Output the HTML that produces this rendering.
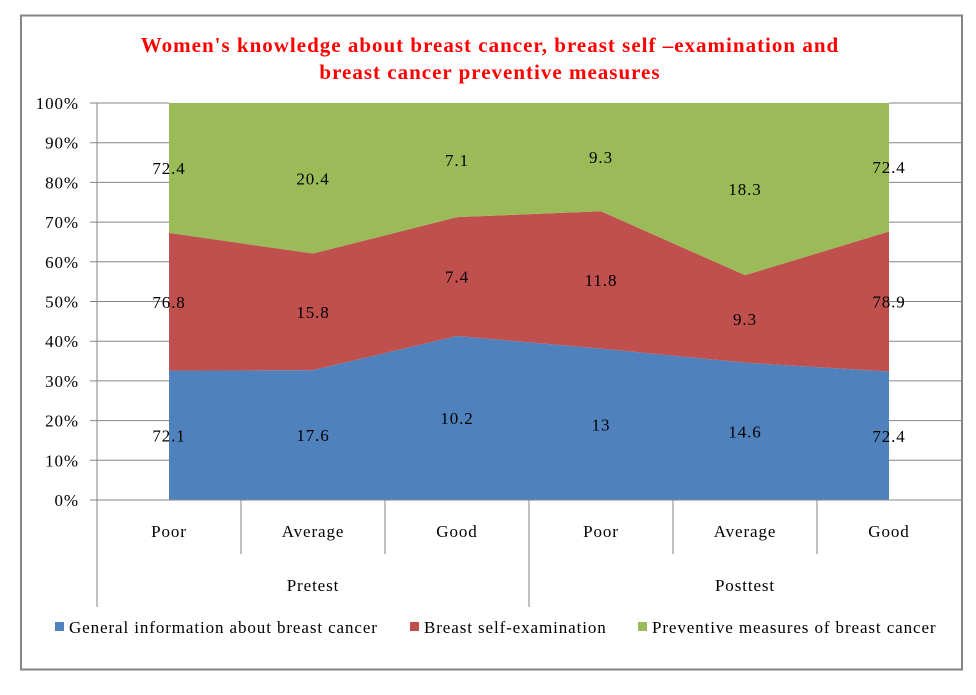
<!DOCTYPE html>
<html><head><meta charset="utf-8"><style>
body{margin:0;background:#fff;width:976px;height:690px;overflow:hidden;font-family:"Liberation Serif",serif}
text{letter-spacing:0.9px}
</style></head><body>
<svg width="976" height="690" id="c" font-family="Liberation Serif, serif">
<rect x="21" y="15.5" width="941" height="654" fill="#fff" stroke="#868686" stroke-width="2"/>
<text x="490" y="52" text-anchor="middle" fill="#ff0000" font-weight="bold" font-size="21" style="letter-spacing:1px">Women's knowledge about breast cancer, breast self –examination and</text>
<text x="490" y="79" text-anchor="middle" fill="#ff0000" font-weight="bold" font-size="21" style="letter-spacing:1px">breast cancer preventive measures</text>
<g id="grid"></g><g id="areas"></g><g id="fg"></g>
</svg>
<script>
const categories=["Poor","Average","Good","Poor","Average","Good"];
const groups=["Pretest","Posttest"];
const general=[72.1,17.6,10.2,13,14.6,72.4];
const selfExam=[76.8,15.8,7.4,11.8,9.3,78.9];
const preventive=[72.4,20.4,7.1,9.3,18.3,72.4];
const yTicks=["0%","10%","20%","30%","40%","50%","60%","70%","80%","90%","100%"];
const svg=document.getElementById('fg');const grid=document.getElementById('grid');const areas=document.getElementById('areas');const NS="http://www.w3.org/2000/svg";
const L=97,R=961,T=103,B=500,cw=(R-L)/categories.length;
const x=i=>L+cw*(i+0.5);const y=p=>B-(B-T)*p/100;
function mk(t,a,p){const e=document.createElementNS(NS,t);for(const k in a)e.setAttribute(k,a[k]);(p||svg).appendChild(e);return e;}
const xa=x(0),xb=x(categories.length-1);
yTicks.forEach((t,i)=>{const yy=y(i*10);
const g=mk('path',{d:`M${L-7},${yy}H${xa}M${xb},${yy}H${R}`,stroke:'#868686',fill:'none'},grid);


const tx=mk('text',{x:L-18,y:yy+6,'text-anchor':'end','font-size':17});tx.textContent=t;

});
const series=[general,selfExam,preventive];const colors=['#4f81bd','#c0504d','#9bbb59'];const names=['area-general','area-self-exam','area-preventive'];
const tot=categories.map((_,i)=>general[i]+selfExam[i]+preventive[i]);
let base=categories.map(()=>0);
series.forEach((s,k)=>{const top=base.map((b,i)=>b+s[i]/tot[i]*100);
let d=top.map((v,i)=>(i?'L':'M')+x(i)+','+y(v)).join('');
for(let i=categories.length-1;i>=0;i--)d+='L'+x(i)+','+y(base[i]);
const p=mk('path',{d:d+'Z',fill:colors[k]},areas);


s.forEach((v,i)=>{const t=mk('text',{x:x(i),y:y((base[i]+top[i])/2)+6,'text-anchor':'middle','font-size':17});t.textContent=v;

});
base=top;});
mk('line',{x1:L,x2:L,y1:T,y2:607,stroke:'#868686'});
mk('line',{x1:L-7,x2:R,y1:B,y2:B,stroke:'#868686'});
categories.forEach((c,i)=>{if(i>0){const sep=i%3==0;mk('line',{x1:L+cw*i,x2:L+cw*i,y1:B,y2:sep?607:554,stroke:'#868686'});}
const t=mk('text',{x:x(i),y:537,'text-anchor':'middle','font-size':17});t.textContent=c;

});
groups.forEach((g,i)=>{const t=mk('text',{x:L+cw*3*(i+0.5),y:591,'text-anchor':'middle','font-size':17});t.textContent=g;

});
const leg=[["General information about breast cancer",55],["Breast self-examination",410],["Preventive measures of breast cancer",638]];
leg.forEach((l,k)=>{const r=mk('rect',{x:l[1],y:622,width:9,height:9,fill:colors[k]});


const t=mk('text',{x:l[1]+14,y:633,'font-size':17});t.textContent=l[0];

});
</script>
</body></html>
